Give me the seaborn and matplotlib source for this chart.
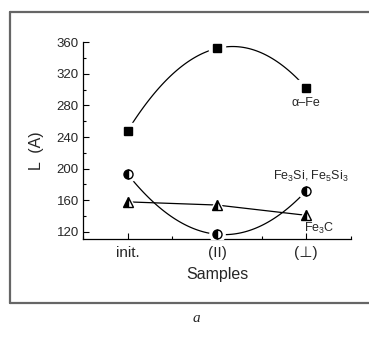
import numpy as np
import pandas as pd
import matplotlib
matplotlib.use("Agg")
import matplotlib.pyplot as plt
from matplotlib.lines import Line2D
from matplotlib.ticker import MultipleLocator
import seaborn as sns

# data
samples = ["init.", "(II)", "(\u22a5)"]
x_pos = [0, 1, 2]
alpha_fe = [248, 352, 302]      # squares
fe_si = [193, 117, 172]         # half-filled circles (Fe3Si, Fe5Si3)
fe3c = [158, 154, 141]          # half-filled triangles

sns.set_theme(style="ticks")
plt.rcParams["font.family"] = ["Liberation Sans", "DejaVu Sans"]
plt.rcParams["mathtext.fontset"] = "custom"
plt.rcParams["mathtext.rm"] = "Liberation Sans"
plt.rcParams["mathtext.it"] = "Liberation Sans:italic"
plt.rcParams["xtick.direction"] = "in"
plt.rcParams["ytick.direction"] = "in"

fig = plt.figure(figsize=(3.69, 3.42), dpi=100)
ax = fig.add_axes([0.225, 0.301, 0.726, 0.576])

# smooth curves through the three points (Origin style spline look)
xs = np.linspace(0, 2, 80)
curves = []
for name, vals in [("a", alpha_fe), ("b", fe_si)]:
    coef = np.polyfit(x_pos, vals, 2)
    curves.append(pd.DataFrame({"x": xs, "y": np.polyval(coef, xs), "s": name}))
curves.append(pd.DataFrame({"x": x_pos, "y": fe3c, "s": "c"}))
df = pd.concat(curves, ignore_index=True)
sns.lineplot(data=df, x="x", y="y", units="s", estimator=None, sort=False,
             color="black", linewidth=0.9, ax=ax, legend=False)

# white halo so lines stop short of markers
for vals, m in [(alpha_fe, "s"), (fe_si, "o"), (fe3c, "^")]:
    ax.plot(x_pos, vals, linestyle="none", marker=m, markersize=11,
            color="white", zorder=3)
ax.plot(x_pos, alpha_fe, linestyle="none", marker="s", markersize=6,
        color="black", zorder=4)
ax.plot(x_pos, fe_si, linestyle="none", marker="o", markersize=6.5,
        fillstyle="left", color="black", markerfacecoloralt="white",
        markeredgewidth=1.0, zorder=4)
ax.plot(x_pos, fe3c, linestyle="none", marker="^", markersize=7,
        fillstyle="left", color="black", markerfacecoloralt="white",
        markeredgewidth=1.0, zorder=4)

ax.text(2.0, 290, "\u03b1\u2013Fe", ha="center", va="top", fontsize=9)
ax.text(2.05, 180, "Fe$_3$Si, Fe$_5$Si$_3$", ha="center", va="bottom", fontsize=9)
ax.text(1.97, 134, "Fe$_3$C", ha="left", va="top", fontsize=9)

ax.set_xlim(-0.5, 2.5)
ax.set_ylim(111, 360)
ax.set_xticks(x_pos)
ax.set_xticklabels(samples)
ax.xaxis.set_minor_locator(MultipleLocator(0.5))
ax.set_yticks([120, 160, 200, 240, 280, 320, 360])
ax.yaxis.set_minor_locator(MultipleLocator(20))
ax.tick_params(axis="both", which="major", direction="in", length=4,
               width=0.8, labelsize=9.5, pad=3, color="black")
ax.tick_params(axis="both", which="minor", direction="in", length=2,
               width=0.8, color="black")
ax.tick_params(axis="x", labelsize=11, pad=5)
ax.set_xlabel("Samples", fontsize=11.5, labelpad=5)
ax.set_ylabel("L  (A)", fontsize=11.5)
ax.yaxis.set_label_coords(-0.145, 0.45)
sns.despine(ax=ax)
for sp in ["left", "bottom"]:
    ax.spines[sp].set_color("black")
    ax.spines[sp].set_linewidth(0.9)
ax.set_facecolor("white")

# outer frame, open on the right
x0, y0, y1 = 10 / 369, 1 - 303 / 342, 1 - 12 / 342
for xd, yd in [([x0, 1.0], [y1, y1]), ([x0, x0], [y0, y1]), ([x0, 1.0], [y0, y0])]:
    fig.add_artist(Line2D(xd, yd, color="#666666", linewidth=1.6))

fig.text(196 / 369, 1 - 318 / 342, "a", family="Liberation Serif",
         style="italic", fontsize=11, ha="center", va="center")

fig.savefig("out.png", dpi=100)
